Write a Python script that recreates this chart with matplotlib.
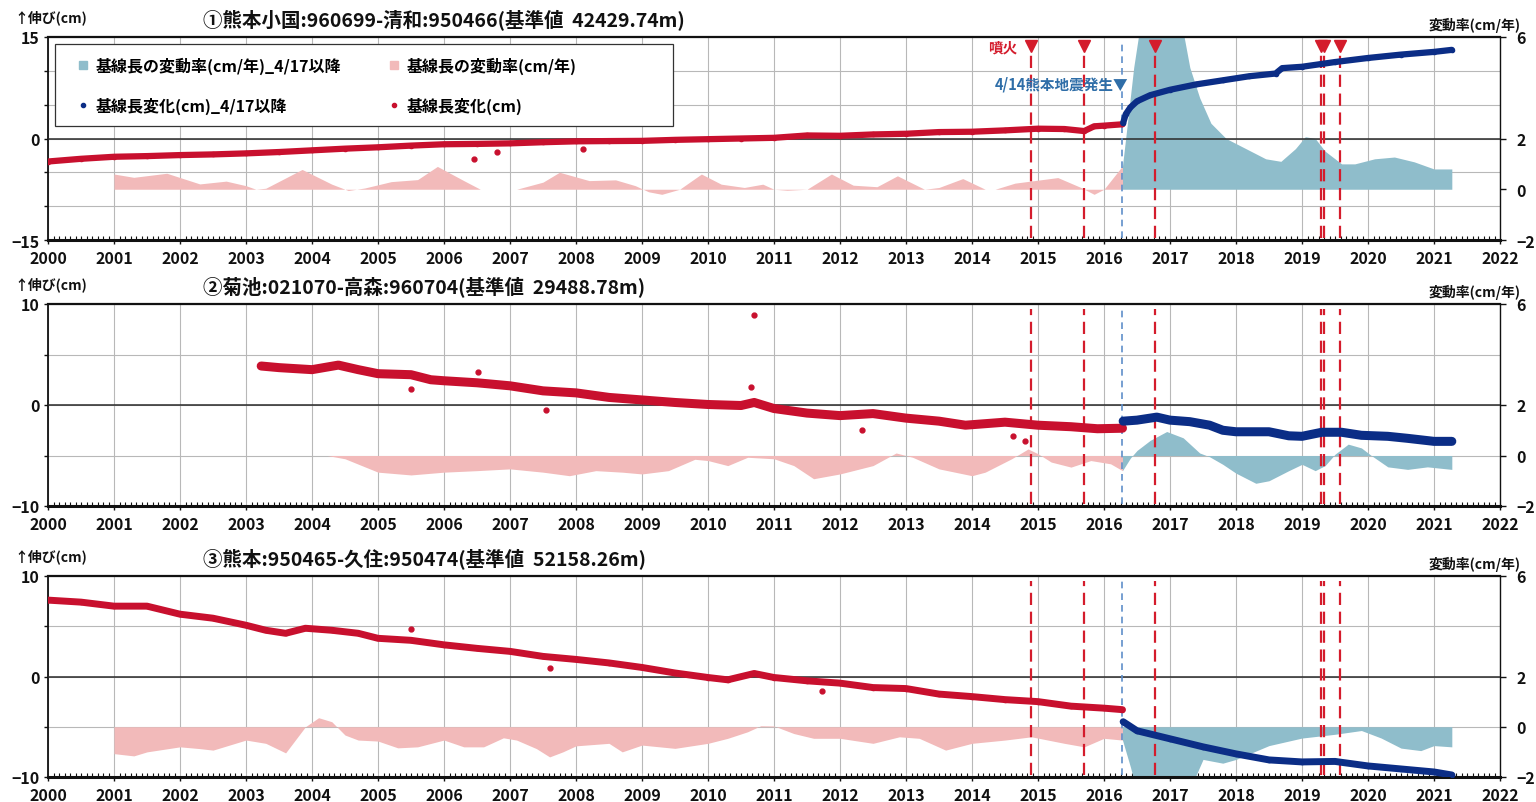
import matplotlib
matplotlib.use('Agg')
import matplotlib.pyplot as plt
from matplotlib.lines import Line2D
from matplotlib.patches import Rectangle
from matplotlib.ticker import MultipleLocator, FixedLocator

plt.rcParams['font.family'] = ['Noto Sans CJK JP', 'DejaVu Sans']
plt.rcParams['font.weight'] = 'bold'

# ---------------- data ----------------
years = list(range(2000, 2023))
eruptions = [2014.90, 2015.70, 2016.77, 2019.29, 2019.34, 2019.57]
quake = 2016.28

titles = ['①熊本小国:960699-清和:950466(基準値  42429.74m)',
          '②菊池:021070-高森:960704(基準値  29488.78m)',
          '③熊本:950465-久住:950474(基準値  52158.26m)']

# Panel 1
p1_red_x = [2000.0, 2000.5, 2001.0, 2001.5, 2002.0, 2002.5, 2003.0, 2003.5, 2004.0, 2004.5, 2005.0, 2005.5,
            2006.0, 2006.5, 2007.0, 2007.5, 2008.0, 2008.5, 2009.0, 2009.5, 2010.0, 2010.5, 2011.0, 2011.5,
            2012.0, 2012.5, 2013.0, 2013.5, 2014.0, 2014.5, 2015.0, 2015.4, 2015.7, 2015.85, 2016.0, 2016.28]
p1_red_y = [-3.4, -3.0, -2.7, -2.6, -2.45, -2.35, -2.2, -2.0, -1.75, -1.5, -1.3, -1.05,
            -0.85, -0.8, -0.72, -0.55, -0.42, -0.38, -0.35, -0.2, -0.1, 0.0, 0.1, 0.45,
            0.4, 0.6, 0.7, 0.95, 1.0, 1.2, 1.45, 1.4, 1.1, 1.8, 1.9, 2.1]
p1_blue_x = [2016.29, 2016.33, 2016.4, 2016.5, 2016.7, 2017.0, 2017.4, 2017.8, 2018.2, 2018.6, 2018.7,
             2019.0, 2019.5, 2020.0, 2020.5, 2021.0, 2021.27]
p1_blue_y = [2.3, 3.6, 4.6, 5.5, 6.4, 7.2, 8.0, 8.6, 9.2, 9.6, 10.4, 10.6, 11.3, 11.9, 12.4, 12.8, 13.1]
p1_out_x = [2006.45, 2006.8, 2008.1]
p1_out_y = [-3.05, -2.0, -1.6]
p1_pink_x = [2001.0, 2001.3, 2001.8, 2002.3, 2002.7, 2003.0, 2003.15, 2003.3, 2003.85, 2004.3, 2004.55,
             2004.8, 2005.2, 2005.6, 2005.9, 2006.3, 2006.55, 2006.8, 2007.1, 2007.5, 2007.75, 2008.2,
             2008.6, 2008.9, 2009.1, 2009.3, 2009.57, 2009.9, 2010.2, 2010.55, 2010.83, 2011.0, 2011.2,
             2011.5, 2011.87, 2012.2, 2012.56, 2012.87, 2013.28, 2013.5, 2013.86, 2014.2, 2014.35,
             2014.65, 2015.3, 2015.65, 2015.85, 2016.0, 2016.28]
p1_pink_y = [0.6, 0.47, 0.63, 0.21, 0.32, 0.14, 0.0, 0.04, 0.78, 0.2, -0.05,
             0.05, 0.3, 0.38, 0.9, 0.34, 0.0, 0.0, 0.0, 0.28, 0.67, 0.34,
             0.37, 0.14, -0.1, -0.2, 0.0, 0.6, 0.2, 0.07, 0.2, 0.0, -0.04,
             0.0, 0.6, 0.16, 0.1, 0.53, 0.0, 0.07, 0.42, 0.0, 0.0,
             0.24, 0.46, 0.07, -0.2, 0.0, 0.92]
p1_bfill_x = [2016.28, 2016.35, 2016.45, 2016.55, 2016.8, 2017.0, 2017.2, 2017.3, 2017.45, 2017.62,
              2017.85, 2018.15, 2018.45, 2018.68, 2018.9, 2019.05, 2019.2, 2019.35, 2019.6, 2019.8,
              2020.1, 2020.4, 2020.7, 2021.0, 2021.27]
p1_bfill_y = [0.92, 2.5, 4.8, 6.5, 8.0, 8.0, 6.2, 4.8, 3.6, 2.6,
              2.0, 1.6, 1.2, 1.1, 1.6, 2.07, 2.0, 1.5, 1.0, 1.0,
              1.2, 1.27, 1.08, 0.8, 0.8]

# Panel 2
p2_red_x = [2003.23, 2003.5, 2004.0, 2004.4, 2004.7, 2005.0, 2005.5, 2005.8, 2006.0, 2006.5, 2007.0,
            2007.5, 2008.0, 2008.5, 2009.0, 2009.5, 2010.0, 2010.5, 2010.7, 2011.0, 2011.5, 2012.0,
            2012.5, 2013.0, 2013.5, 2013.9, 2014.3, 2014.5, 2015.0, 2015.5, 2015.9, 2016.28]
p2_red_y = [3.86, 3.7, 3.5, 3.95, 3.5, 3.1, 3.0, 2.5, 2.4, 2.2, 1.9,
            1.4, 1.2, 0.75, 0.5, 0.25, 0.05, -0.05, 0.25, -0.35, -0.8, -1.05,
            -0.85, -1.3, -1.6, -2.0, -1.8, -1.7, -2.0, -2.15, -2.35, -2.3]
p2_blue_x = [2016.29, 2016.5, 2016.8, 2017.0, 2017.3, 2017.6, 2017.8, 2018.0, 2018.5, 2018.8, 2019.0,
             2019.3, 2019.6, 2019.9, 2020.3, 2020.6, 2021.0, 2021.27]
p2_blue_y = [-1.6, -1.5, -1.2, -1.5, -1.65, -2.0, -2.5, -2.65, -2.65, -3.05, -3.1,
             -2.7, -2.7, -3.0, -3.1, -3.3, -3.6, -3.6]
p2_out_x = [2010.7, 2006.52, 2007.55, 2005.5, 2010.65, 2012.33, 2014.8, 2014.62]
p2_out_y = [8.9, 3.3, -0.5, 1.6, 1.8, -2.5, -3.6, -3.1]
p2_pink_x = [2004.23, 2004.5, 2005.0, 2005.5, 2006.0, 2006.5, 2007.0, 2007.5, 2007.9, 2008.3, 2008.7,
             2009.0, 2009.4, 2009.8, 2010.0, 2010.3, 2010.6, 2011.0, 2011.3, 2011.6, 2012.0, 2012.5,
             2012.85, 2013.1, 2013.5, 2014.0, 2014.2, 2014.6, 2014.85, 2015.0, 2015.2, 2015.5, 2015.8,
             2016.1, 2016.28]
p2_pink_y = [0.0, -0.13, -0.66, -0.77, -0.66, -0.6, -0.53, -0.66, -0.8, -0.6, -0.66,
             -0.73, -0.6, -0.15, -0.2, -0.4, -0.07, -0.13, -0.4, -0.92, -0.73, -0.4,
             0.1, -0.07, -0.53, -0.8, -0.66, -0.13, 0.26, 0.07, -0.26, -0.46, -0.2,
             -0.33, -0.6]
p2_bfill_x = [2016.28, 2016.4, 2016.5, 2016.7, 2016.95, 2017.2, 2017.45, 2017.6, 2017.8, 2018.0, 2018.3,
              2018.5, 2018.8, 2019.0, 2019.2, 2019.35, 2019.5, 2019.7, 2019.9, 2020.05, 2020.3, 2020.6,
              2020.9, 2021.27]
p2_bfill_y = [-0.6, -0.1, 0.2, 0.6, 0.95, 0.7, 0.1, -0.05, -0.35, -0.7, -1.1,
              -1.0, -0.6, -0.35, -0.6, -0.4, 0.05, 0.45, 0.3, 0.0, -0.45, -0.55,
              -0.45, -0.55]

# Panel 3
p3_red_x = [2000.0, 2000.5, 2001.0, 2001.5, 2002.0, 2002.5, 2003.0, 2003.3, 2003.6, 2003.9, 2004.3,
            2004.7, 2005.0, 2005.5, 2006.0, 2006.5, 2007.0, 2007.5, 2008.0, 2008.5, 2009.0, 2009.5,
            2010.0, 2010.3, 2010.7, 2011.0, 2011.5, 2012.0, 2012.5, 2013.0, 2013.5, 2014.0, 2014.5,
            2015.0, 2015.5, 2016.0, 2016.28]
p3_red_y = [7.6, 7.4, 7.0, 7.0, 6.2, 5.8, 5.1, 4.6, 4.3, 4.8, 4.6,
            4.3, 3.8, 3.6, 3.15, 2.8, 2.5, 2.0, 1.7, 1.35, 0.9, 0.35,
            -0.1, -0.33, 0.3, -0.1, -0.43, -0.66, -1.1, -1.2, -1.75, -2.0, -2.3,
            -2.5, -2.95, -3.15, -3.3]
p3_blue_x = [2016.29, 2016.5, 2017.0, 2017.5, 2018.0, 2018.5, 2019.0, 2019.5, 2020.0, 2020.5, 2021.0,
             2021.27]
p3_blue_y = [-4.5, -5.4, -6.2, -7.0, -7.7, -8.3, -8.5, -8.45, -8.9, -9.2, -9.5, -9.8]
p3_out_x = [2011.73, 2005.5, 2007.6]
p3_out_y = [-1.43, 4.7, 0.83]
p3_pink_x = [2001.0, 2001.3, 2001.5, 2002.0, 2002.3, 2002.5, 2003.0, 2003.3, 2003.6, 2003.9, 2004.1,
             2004.3, 2004.5, 2004.7, 2005.0, 2005.3, 2005.6, 2006.0, 2006.3, 2006.6, 2006.9, 2007.1,
             2007.4, 2007.6, 2007.8, 2008.0, 2008.5, 2008.7, 2009.0, 2009.5, 2010.0, 2010.3, 2010.6,
             2010.8, 2011.0, 2011.3, 2011.6, 2012.0, 2012.5, 2012.9, 2013.2, 2013.6, 2014.0, 2014.5,
             2014.9, 2015.4, 2015.7, 2016.0, 2016.28]
p3_pink_y = [-1.07, -1.16, -1.0, -0.8, -0.87, -0.93, -0.53, -0.66, -1.04, 0.0, 0.36,
             0.2, -0.33, -0.53, -0.57, -0.84, -0.8, -0.53, -0.8, -0.8, -0.44, -0.53,
             -0.87, -1.2, -1.0, -0.76, -0.66, -1.0, -0.73, -0.86, -0.66, -0.46, -0.2,
             0.04, 0.03, -0.27, -0.46, -0.46, -0.66, -0.4, -0.46, -0.93, -0.66, -0.53,
             -0.4, -0.66, -0.8, -0.46, -0.53]
p3_bfill_x = [2016.28, 2016.4, 2016.5, 2017.0, 2017.35, 2017.5, 2017.8, 2018.0, 2018.5, 2019.0, 2019.5,
              2019.9, 2020.2, 2020.5, 2020.8, 2021.0, 2021.27]
p3_bfill_y = [-0.53, -1.6, -2.6, -3.0, -2.2, -1.3, -1.45, -1.3, -0.75, -0.45, -0.3,
              -0.15, -0.45, -0.85, -0.95, -0.75, -0.8]

left_ylims = [(-15, 15), (-10, 10), (-10, 10)]
left_labels = [[-15, 0, 15], [-10, 0, 10], [-10, 0, 10]]
right_ticks = [-2, 0, 2, 6]

legend_labels = ['基線長の変動率(cm/年)_4/17以降', '基線長変化(cm)_4/17以降',
                 '基線長の変動率(cm/年)', '基線長変化(cm)']

# ---------------- style ----------------
RED = '#c8102e'
BLUE = '#0b2d86'
PINK = '#f2baba'
BFILL = '#8fbdcb'
RDASH = '#d41c2c'
BDASH = '#5f8fca'
GRID = '#b8b8b8'

fig = plt.figure(figsize=(15.36, 8.03), dpi=100)
W, H = 1536, 803


def fx(px):
    return px / W


def fy(py):
    return 1 - py / H


def fmt(v):
    v = int(round(v))
    return ('−%d' % -v) if v < 0 else '%d' % v


rects = [(38, 241), (305, 507), (577, 778)]
lw_band = [4.5, 6.5, 5.0]

panels = [
    (p1_red_x, p1_red_y, p1_blue_x, p1_blue_y, p1_out_x, p1_out_y, p1_pink_x, p1_pink_y, p1_bfill_x, p1_bfill_y),
    (p2_red_x, p2_red_y, p2_blue_x, p2_blue_y, p2_out_x, p2_out_y, p2_pink_x, p2_pink_y, p2_bfill_x, p2_bfill_y),
    (p3_red_x, p3_red_y, p3_blue_x, p3_blue_y, p3_out_x, p3_out_y, p3_pink_x, p3_pink_y, p3_bfill_x, p3_bfill_y),
]

x0p, x1p = 48, 1500
for i, ((top, bot), data) in enumerate(zip(rects, panels)):
    rx, ry, bx, by, ox, oy, pkx, pky, bfx, bfy = data
    rect = [fx(x0p), fy(bot), fx(x1p) - fx(x0p), fy(top) - fy(bot)]
    ax = fig.add_axes(rect)
    ax.set_zorder(1)
    axf = ax.twinx()
    axf.set_zorder(2)
    axp = fig.add_axes(rect, sharex=ax, sharey=ax)
    axp.set_zorder(3)
    axp.patch.set_visible(False)
    axp.axis('off')

    ylo, yhi = left_ylims[i]
    ax.set_xlim(2000, 2022)
    ax.set_ylim(ylo, yhi)
    ax.set_xticks(years)
    ax.set_xticklabels([str(y) for y in years])
    ax.xaxis.set_minor_locator(MultipleLocator(1 / 12))
    ticks_y = list(range(ylo, yhi + 1, 5))
    ax.set_yticks(ticks_y)
    ax.set_yticklabels([fmt(v) if v in left_labels[i] else '' for v in ticks_y])
    ax.grid(True, which='major', color=GRID, lw=0.8)
    ax.set_axisbelow(True)
    for s in ax.spines.values():
        s.set_visible(False)
    ax.tick_params(axis='x', which='major', direction='out', length=3, width=1, pad=4,
                   labelsize=11.5, colors='#111')
    ax.tick_params(axis='x', which='minor', direction='in', length=3, width=0.8, color='#111')
    ax.tick_params(axis='y', direction='out', length=3, width=1, pad=3, labelsize=11.5, colors='#111')
    for t in ax.get_xticklabels() + ax.get_yticklabels():
        t.set_fontweight('bold')

    axf.set_ylim(-2, 6)
    axf.yaxis.set_major_locator(FixedLocator(right_ticks))
    axf.set_yticklabels([fmt(v) for v in right_ticks])
    axf.tick_params(axis='y', direction='out', length=4, width=1, pad=8, labelsize=11.5, colors='#111')
    for t in axf.get_yticklabels():
        t.set_fontweight('bold')
    axf.fill_between(pkx, 0, pky, color=PINK, lw=0)
    axf.fill_between(bfx, 0, bfy, color=BFILL, lw=0)
    for name, s in axf.spines.items():
        s.set_color('#111')
        s.set_linewidth(1.3)
    axf.spines['bottom'].set_linewidth(2.2)
    axf.spines['top'].set_linewidth(1.6)
    axf.spines['right'].set_linewidth(1.0)

    # zero line of the length axis
    axp.axhline(0, color='#2a2a2a', lw=1.1, zorder=2)
    # event lines
    ymax_ev = 0.985 if i == 0 else 0.975
    for e in eruptions:
        axp.axvline(e, ymin=0.01, ymax=ymax_ev, color=RDASH, lw=1.6, ls=(0, (5.5, 3.0)), zorder=3)
    axp.axvline(quake, ymin=0.01, ymax=0.985, color=BDASH, lw=1.2, ls=(0, (4, 3)), zorder=3)

    # baseline length change
    axp.plot(rx, ry, color=RED, lw=lw_band[i], solid_capstyle='round', solid_joinstyle='round',
             marker='o', ms=3, zorder=5)
    axp.plot(bx, by, color=BLUE, lw=lw_band[i], solid_capstyle='round', solid_joinstyle='round',
             marker='o', ms=3, zorder=5)
    axp.plot(ox, oy, 'o', color=RED, ms=3.5, zorder=5)

    # texts around the panel
    fig.text(fx(14), fy(18 + (top - 38)), '↑伸び(cm)', fontsize=10, fontweight='bold',
             ha='left', va='center', color='#111')
    fig.text(fx(203), fy(20 + (top - 38)), titles[i], fontsize=14, fontweight='bold',
             ha='left', va='center', color='#111')
    fig.text(fx(1521), fy(25 + (top - 38)), '変動率(cm/年)', fontsize=10, fontweight='bold',
             ha='right', va='center', color='#111')

    if i == 0:
        tr = axp.get_xaxis_transform()
        axp.plot(eruptions, [0.955] * len(eruptions), 'v', color=RDASH, ms=8, transform=tr,
                 clip_on=False, zorder=6)
        axp.annotate('噴火', xy=(eruptions[0], 0.955), xycoords=tr, xytext=(-10, 0),
                     textcoords='offset points', ha='right', va='center', color=RDASH,
                     fontsize=10.5, fontweight='bold')
        axp.annotate('4/14熊本地震発生▼', xy=(quake, 0.773), xycoords=tr, xytext=(4, 0),
                     textcoords='offset points', ha='right', va='center', color='#2f6ea8',
                     fontsize=10.5, fontweight='bold', zorder=6)
        axp.add_patch(Rectangle((0.0048, 0.562), 0.4256, 0.404, transform=axp.transAxes,
                                facecolor='white', edgecolor='#333', lw=0.9, zorder=8))
        handles = [Line2D([], [], ls='none', marker='s', ms=6, color=BFILL),
                   Line2D([], [], ls='none', marker='o', ms=3, color=BLUE),
                   Line2D([], [], ls='none', marker='s', ms=6, color=PINK),
                   Line2D([], [], ls='none', marker='o', ms=3, color=RED)]
        leg = axp.legend(handles, legend_labels, ncol=2, loc='upper left',
                         bbox_to_anchor=(0.0207, 0.905), frameon=False,
                         prop={'size': 11.5, 'weight': 'bold'}, handlelength=0.6,
                         handletextpad=0.5, borderaxespad=0, borderpad=0,
                         labelspacing=1.45, columnspacing=3.0)
        leg.set_zorder(10)

fig.savefig('out.png', dpi=100, facecolor='white')
